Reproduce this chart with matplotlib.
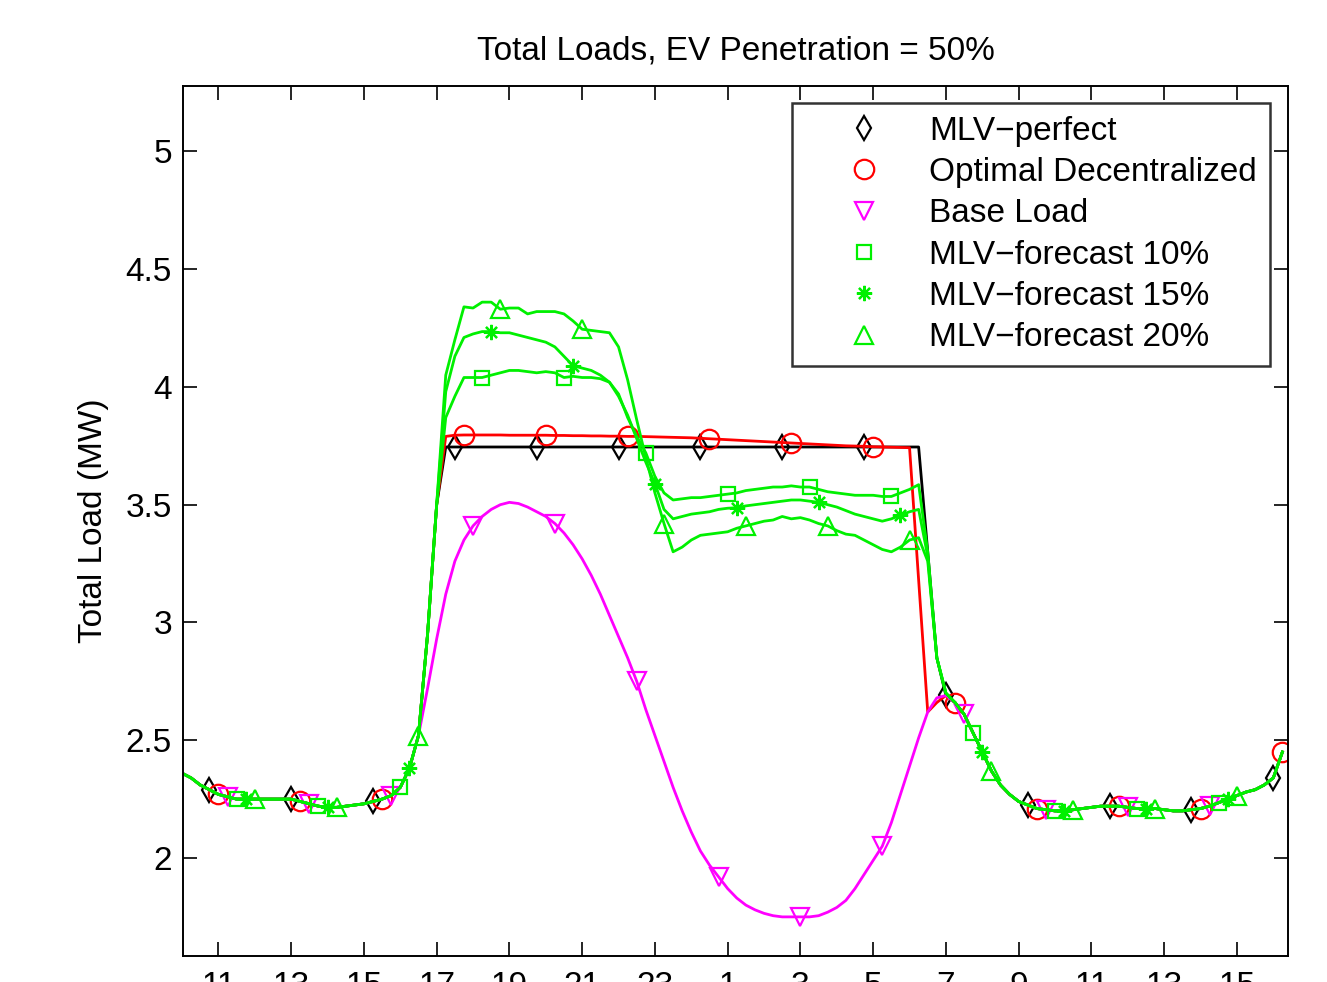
import numpy as np
import matplotlib
matplotlib.use('Agg')
import matplotlib.pyplot as plt
from matplotlib.lines import Line2D

plt.rcParams['font.family'] = ['Liberation Sans', 'DejaVu Sans']

# quarter-hour samples, 10:00 on day 1 up to 16:15 on day 2 (hours counted from midnight day 1)
hours = np.arange(10.0, 40.26, 0.25)

# 10:00 - 16:30, all curves lie on top of each other
morning = [2.36, 2.34, 2.31, 2.29, 2.27, 2.26, 2.25, 2.25, 2.25, 2.25,
           2.25, 2.25, 2.25, 2.24, 2.23, 2.22, 2.215, 2.215, 2.22, 2.225,
           2.23, 2.24, 2.25, 2.265, 2.30, 2.38, 2.52]

# 07:15 - 16:15 next day, again shared
evening = [2.66, 2.61, 2.53, 2.45, 2.37, 2.31, 2.27, 2.24, 2.225, 2.21,
           2.205, 2.20, 2.20, 2.205, 2.21, 2.215, 2.22, 2.22, 2.22, 2.215,
           2.21, 2.21, 2.21, 2.205, 2.20, 2.20, 2.205, 2.21, 2.22, 2.235,
           2.25, 2.265, 2.28, 2.29, 2.31, 2.34, 2.45]

# 16:45 - 07:00, where the curves split
perfect_peak = [2.95, 3.50,
                3.745, 3.745, 3.745, 3.745, 3.745, 3.745, 3.745, 3.745, 3.745, 3.745,
                3.745, 3.745, 3.745, 3.745, 3.745, 3.745, 3.745, 3.745, 3.745, 3.745,
                3.745, 3.745, 3.745, 3.745, 3.745, 3.745, 3.745, 3.745, 3.745, 3.745,
                3.745, 3.745, 3.745, 3.745, 3.745, 3.745, 3.745, 3.745, 3.745, 3.745,
                3.745, 3.745, 3.745, 3.745, 3.745, 3.745, 3.745, 3.745, 3.745, 3.745,
                3.745, 3.745, 3.745,
                3.30, 2.85, 2.69]

decentral_peak = [2.95, 3.50, 3.79, 3.795, 3.796, 3.796, 3.796, 3.796, 3.796, 3.795,
                  3.795, 3.795, 3.795, 3.795, 3.794, 3.794, 3.793, 3.793, 3.792, 3.792,
                  3.791, 3.791, 3.79, 3.79, 3.789, 3.788, 3.787, 3.786, 3.785, 3.784,
                  3.782, 3.78, 3.778, 3.776, 3.774, 3.772, 3.77, 3.768, 3.766, 3.764,
                  3.762, 3.76, 3.758, 3.756, 3.754, 3.752, 3.75, 3.749, 3.748, 3.746,
                  3.745, 3.744, 3.743, 3.742, 3.18, 2.62, 2.66, 2.69]

base_peak = [2.72, 2.93, 3.12, 3.26, 3.35, 3.41, 3.45, 3.48, 3.50, 3.51,
             3.505, 3.49, 3.47, 3.45, 3.42, 3.38, 3.33, 3.27, 3.20, 3.12,
             3.03, 2.94, 2.85, 2.75, 2.63, 2.52, 2.41, 2.30, 2.20, 2.11,
             2.03, 1.97, 1.92, 1.87, 1.83, 1.80, 1.78, 1.765, 1.755, 1.75,
             1.75, 1.75, 1.75, 1.755, 1.77, 1.79, 1.82, 1.87, 1.93, 1.99,
             2.05, 2.15, 2.27, 2.39, 2.51, 2.62, 2.68, 2.69]

fc10_peak = [2.95, 3.50, 3.87, 3.96, 4.04, 4.04, 4.04, 4.05, 4.06, 4.07,
             4.07, 4.065, 4.06, 4.065, 4.06, 4.04, 4.045, 4.04, 4.04, 4.035,
             4.02, 3.97, 3.87, 3.79, 3.72, 3.62, 3.55, 3.52, 3.525, 3.53,
             3.53, 3.535, 3.54, 3.545, 3.55, 3.56, 3.565, 3.57, 3.575, 3.575,
             3.58, 3.575, 3.575, 3.565, 3.555, 3.55, 3.545, 3.54, 3.54, 3.54,
             3.535, 3.535, 3.55, 3.565, 3.585, 3.30, 2.85, 2.70]

fc15_peak = [2.95, 3.50, 3.98, 4.13, 4.21, 4.225, 4.235, 4.235, 4.23, 4.23,
             4.22, 4.21, 4.20, 4.19, 4.17, 4.13, 4.09, 4.08, 4.07, 4.05,
             4.02, 3.96, 3.88, 3.78, 3.68, 3.59, 3.48, 3.44, 3.45, 3.46,
             3.465, 3.47, 3.48, 3.485, 3.487, 3.495, 3.50, 3.505, 3.51, 3.515,
             3.52, 3.52, 3.515, 3.51, 3.50, 3.49, 3.475, 3.46, 3.45, 3.44,
             3.43, 3.44, 3.455, 3.47, 3.48, 3.28, 2.85, 2.70]

fc20_peak = [2.95, 3.50, 4.05, 4.20, 4.34, 4.335, 4.36, 4.36, 4.33, 4.335,
             4.335, 4.31, 4.32, 4.32, 4.32, 4.31, 4.28, 4.245, 4.24, 4.235,
             4.23, 4.17, 4.03, 3.86, 3.70, 3.55, 3.42, 3.30, 3.32, 3.35,
             3.37, 3.375, 3.38, 3.385, 3.40, 3.41, 3.42, 3.43, 3.435, 3.45,
             3.44, 3.445, 3.435, 3.42, 3.41, 3.39, 3.375, 3.37, 3.35, 3.33,
             3.31, 3.30, 3.32, 3.35, 3.36, 3.26, 2.85, 2.70]

labels = ['MLV\u2212perfect', 'Optimal Decentralized', 'Base Load',
          'MLV\u2212forecast 10%', 'MLV\u2212forecast 15%', 'MLV\u2212forecast 20%']

xtick_pos = [11, 13, 15, 17, 19, 21, 23, 25, 27, 29, 31, 33, 35, 37, 39]
xtick_labels = ['11', '13', '15', '17', '19', '21', '23', '1', '3', '5', '7', '9', '11', '13', '15']
ytick_pos = [2, 2.5, 3, 3.5, 4, 4.5, 5]
ytick_labels = ['2', '2.5', '3', '3.5', '4', '4.5', '5']

series = [perfect_peak, decentral_peak, base_peak, fc10_peak, fc15_peak, fc20_peak]
colors = ['black', '#ff0000', '#ff00ff', '#00f000', '#00f000', '#00f000']
markers = ['d', 'o', 'v', 's', (8, 2, 0), '^']
msizes = [12.5, 14, 13, 10, 11, 13]
mark_start = [3, 4, 5, 6, 7, 8]   # markers every 9 samples, shifted per series

fig = plt.figure(figsize=(13.27, 9.82), dpi=100)
ax = fig.add_axes([0.138, 0.0265, 0.8325, 0.886])

handles = []
for peak, c, m, ms, st, lab in zip(series, colors, markers, msizes, mark_start, labels):
    y = np.array(morning + peak + evening)
    ax.plot(hours, y, color=c, lw=2.0, marker=m, ms=ms, mfc='none', mec=c, mew=1.6,
            markevery=(st, 9))
    handles.append(Line2D([], [], color=c, ls='none', marker=m, ms=ms, mfc='none', mec=c, mew=1.6))

ax.set_xlim(10.03, 40.4)
ax.set_ylim(1.584, 5.278)
ax.set_xticks(xtick_pos)
ax.set_xticklabels(xtick_labels)
ax.set_yticks(ytick_pos)
ax.set_yticklabels(ytick_labels)
ax.tick_params(direction='in', top=True, right=True, length=10, width=1.2, labelsize=24, pad=8)
ax.tick_params(axis='x', pad=11)
for s in ax.spines.values():
    s.set_linewidth(1.4)

ax.set_title('Total Loads, EV Penetration = 50%', fontsize=24, pad=19)
ax.set_ylabel('Total Load (MW)', fontsize=24, labelpad=12)

leg = ax.legend(handles, labels, loc='upper right', bbox_to_anchor=(1 - 18 / 1105, 1 - 17 / 870),
                borderaxespad=0, fontsize=24, frameon=True, fancybox=False, edgecolor='black',
                handlelength=3.6, handletextpad=0.15, labelspacing=0.31, borderpad=0.38)
leg.get_frame().set_linewidth(1.8)

fig.savefig('out.png', dpi=100)
